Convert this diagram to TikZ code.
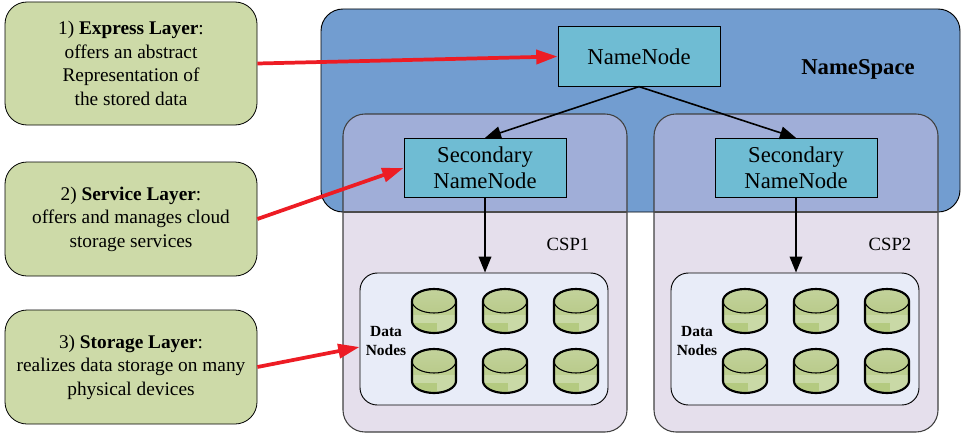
\documentclass[tikz,border=0pt]{standalone}
\usepackage{fontspec}
\setmainfont{Liberation Serif}
\usetikzlibrary{arrows.meta}
\definecolor{nsblue}{HTML}{729DD0}
\definecolor{cspfill}{HTML}{E5DFEC}
\definecolor{cspover}{HTML}{A0AED8}
\definecolor{innerfill}{HTML}{E8ECF8}
\definecolor{layerfill}{HTML}{CDDAA8}
\definecolor{nodefill}{HTML}{6FBCD3}
\definecolor{redarrow}{HTML}{ED1C24}
\definecolor{cyltopa}{HTML}{C3D29B}
\definecolor{cyltopb}{HTML}{B9CB8B}
\definecolor{cylbody}{HTML}{BDCF90}
\definecolor{cyldark}{HTML}{B4CA80}
\definecolor{cyllight}{HTML}{C9D9A6}
\tikzset{
  x=0.75pt,y=-0.75pt,
  layerbox/.style={draw=black,line width=0.6pt,fill=layerfill,rounded corners=16.5pt,minimum width=189pt,minimum height=92.25pt,align=center,font=\fontsize{14.5}{17.6}\selectfont,inner sep=0pt},
  namebox/.style={draw=black,line width=0.7pt,fill=nodefill,minimum width=121.5pt,minimum height=44.5pt,align=center,font=\fontsize{17}{19.5}\selectfont,inner sep=0pt},
  redline/.style={draw=redarrow,line width=2.8pt,-{Triangle[length=16pt,width=10.5pt]}},
  blackline/.style={draw=black,line width=1.2pt,-{Triangle[length=12pt,width=9.5pt]}},
  cspbox/.style={draw=black!75,line width=0.8pt,rounded corners=16.5pt},
  datalabel/.style={font=\fontsize{11.6}{14.25}\selectfont\bfseries,align=center,inner sep=0pt},
  pics/disk/.style={code={
    \fill[cylbody] (-22,-10) -- (-22,10) .. controls (-22,16.6) and (-12.1,22) .. (0,22) .. controls (12.1,22) and (22,16.6) .. (22,10) -- (22,-10) -- cycle;
    \begin{scope}
      \clip (-22,-10) -- (-22,10) .. controls (-22,16.6) and (-12.1,22) .. (0,22) .. controls (12.1,22) and (22,16.6) .. (22,10) -- (22,-10) -- cycle;
      \fill[cyllight] (-22,4) rectangle (22,24);
      \fill[cyldark] (-22,12) rectangle (3,24);
    \end{scope}
    \draw[black,line width=0.8pt,top color=cyltopa,bottom color=cyltopb] (0,-10) ellipse [x radius=22,y radius=12];
    \draw[black,line width=1.6pt] (-22,-10) -- (-22,10) .. controls (-22,16.6) and (-12.1,22) .. (0,22) .. controls (12.1,22) and (22,16.6) .. (22,10) -- (22,-10);
    \draw[black,line width=1.6pt] (-22,-10) .. controls (-22,-16.6) and (-12.1,-22) .. (0,-22) .. controls (12.1,-22) and (22,-16.6) .. (22,-10);
  }}
}
\begin{document}
\begin{tikzpicture}
\useasboundingbox (0,0) rectangle (962,435);
% namespace
\path[fill=nsblue,draw=black,line width=0.7pt,rounded corners=16.5pt] (321,9) rectangle (960,212);
\node[font=\fontsize{17}{18}\selectfont\bfseries,inner sep=0pt] (nsl) at (858,69.5) {NameSpace};
% CSP panels
\foreach \ox/\cn in {343/1,654/2}{
  \path[fill=cspfill,rounded corners=16.5pt] (\ox,114) rectangle (\ox+284,432);
  \begin{scope}
    \clip (321,9) rectangle (960,212);
    \path[fill=cspover,rounded corners=16.5pt] (\ox,114) rectangle (\ox+284,432);
  \end{scope}
  \path[cspbox] (\ox,114) rectangle (\ox+284,432);
  \draw[black!70,line width=0.9pt] (\ox,212) -- (\ox+284,212);
}
\node[font=\fontsize{14}{14}\selectfont,inner sep=0pt] (csp1) at (568,244) {CSP1};
\node[font=\fontsize{14}{14}\selectfont,inner sep=0pt] (csp2) at (890,244) {CSP2};
% inner data panels
\node[draw=black,line width=0.7pt,fill=innerfill,rounded corners=13pt,minimum width=186pt,minimum height=99pt,inner sep=0pt] (inner1) at (484,339) {};
\node[draw=black,line width=0.7pt,fill=innerfill,rounded corners=13pt,minimum width=186pt,minimum height=99pt,inner sep=0pt] (inner2) at (795,339) {};
\node[datalabel] (dl1) at (386,341) {Data\\Nodes};
\node[datalabel] (dl2) at (697,341) {Data\\Nodes};
\foreach \ox in {0,311}{
  \foreach \px in {434,505,576}{
    \foreach \py in {311,371}{
      \pic at (\px+\ox,\py) {disk};
    }
  }
}
% name nodes
\node[namebox] (nn) at (639,56.5) {NameNode};
\node[namebox] (sn1) at (485,168) {Secondary\\NameNode};
\node[namebox] (sn2) at (796,168) {Secondary\\NameNode};
% layers
\node[layerbox] (l1) at (131,63.5) {1) \textbf{Express Layer}:\\offers an abstract\\Representation of\\the stored data};
\node[layerbox,minimum height=85.5pt] (l2) at (131,219) {2) \textbf{Service Layer}:\\offers and manages cloud\\storage services};
\node[layerbox,minimum height=85.5pt] (l3) at (131,367) {3) \textbf{Storage Layer}:\\realizes data storage on many\\physical devices};
% connectors
\draw[blackline] (nn.south) -- (sn1.north);
\draw[blackline] (nn.south) -- (sn2.north);
\draw[blackline] (sn1.south) -- (inner1.north -| sn1.south);
\draw[blackline] (sn2.south) -- (inner2.north -| sn2.south);
\draw[redline] (l1.east) -- (nn.west);
\draw[redline] (l2.east) -- (sn1.west);
\draw[redline] (l3.east) -- ([yshift=-6pt]inner1.west);
\end{tikzpicture}
\end{document}
